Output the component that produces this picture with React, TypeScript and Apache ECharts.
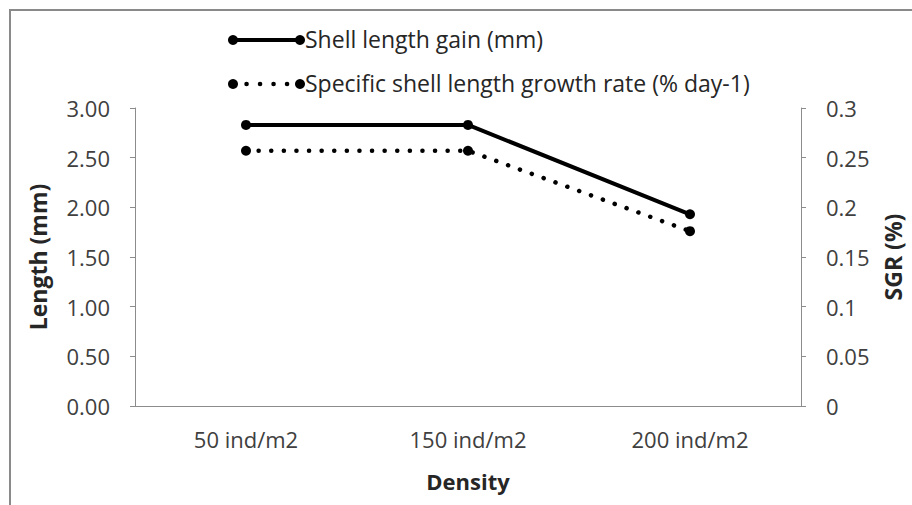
import React, { useEffect, useRef } from "react";
import * as echarts from "echarts";

const categories = ["50 ind/m2", "150 ind/m2", "200 ind/m2"];
const shellLengthGain = [2.83, 2.83, 1.93];
const sgrValues = [0.257, 0.257, 0.176];
const seriesNames = ["Shell length gain (mm)", "Specific shell length growth rate (% day-1)"];

const FONT = "'Open Sans', 'Noto Sans', sans-serif";

export default function App() {
  const ref = useRef<HTMLDivElement>(null);
  useEffect(() => {
    document.body.style.margin = "0";
    const chart = echarts.init(ref.current!, null, { renderer: "svg" });
    const axisColor = "#8c8c8c";
    const labelColor = "#404040";
    chart.setOption({
      animation: false,
      backgroundColor: "#ffffff",
      textStyle: { fontFamily: FONT },
      grid: { left: 135, right: 104, top: 108, bottom: 99 },
      xAxis: {
        type: "category",
        data: categories,
        boundaryGap: true,
        name: "Density",
        nameLocation: "middle",
        nameGap: 64,
        nameTextStyle: { fontSize: 22, fontWeight: "bold", color: "#262626", fontFamily: FONT },
        axisLine: { lineStyle: { color: axisColor, width: 1 } },
        axisTick: { alignWithLabel: true, length: 5, lineStyle: { color: axisColor } },
        axisLabel: { fontSize: 22, color: labelColor, margin: 22, fontFamily: FONT },
        splitLine: { show: false },
      },
      yAxis: [
        {
          type: "value",
          min: 0,
          max: 3,
          interval: 0.5,
          name: "Length (mm)",
          nameLocation: "middle",
          nameGap: 86,
          nameTextStyle: { fontSize: 23, fontWeight: "bold", color: "#262626", fontFamily: FONT },
          axisLine: { show: true, lineStyle: { color: axisColor } },
          axisTick: { show: true, length: 5, lineStyle: { color: axisColor } },
          axisLabel: {
            fontSize: 22,
            color: labelColor,
            margin: 25,
            fontFamily: FONT,
            formatter: (v: number) => v.toFixed(2),
          },
          splitLine: { show: false },
        },
        {
          type: "value",
          min: 0,
          max: 0.3,
          interval: 0.05,
          position: "right",
          name: "SGR (%)",
          nameLocation: "middle",
          nameGap: 80,
          nameRotate: 90,
          nameTextStyle: { fontSize: 23, fontWeight: "bold", color: "#262626", fontFamily: FONT },
          axisLine: { show: true, lineStyle: { color: axisColor } },
          axisTick: { show: true, length: 5, lineStyle: { color: axisColor } },
          axisLabel: {
            fontSize: 22,
            color: labelColor,
            margin: 25,
            fontFamily: FONT,
            formatter: (v: number) => String(Math.round(v * 100) / 100),
          },
          splitLine: { show: false },
        },
      ],
      series: [
        {
          name: seriesNames[0],
          type: "line",
          data: shellLengthGain,
          yAxisIndex: 0,
          symbol: "circle",
          symbolSize: 10,
          itemStyle: { color: "#000000" },
          lineStyle: { color: "#000000", width: 4 },
        },
        {
          name: seriesNames[1],
          type: "line",
          data: sgrValues,
          yAxisIndex: 1,
          symbol: "circle",
          symbolSize: 10,
          itemStyle: { color: "#000000" },
          lineStyle: { color: "#000000", width: 4.5, type: [0.1, 12.5], cap: "round" },
        },
      ],
      graphic: [
        {
          type: "polyline",
          shape: { points: [[10, 520], [10, 10], [920, 10]] },
          style: { stroke: "#8a8a8a", lineWidth: 2, fill: "none" },
        },
        {
          type: "group",
          children: [
            { type: "line", shape: { x1: 233, y1: 40, x2: 300, y2: 40 }, style: { stroke: "#000", lineWidth: 4 } },
            { type: "circle", shape: { cx: 233, cy: 40, r: 5 }, style: { fill: "#000" } },
            { type: "circle", shape: { cx: 300, cy: 40, r: 5 }, style: { fill: "#000" } },
            {
              type: "text",
              x: 305,
              y: 39,
              style: { text: seriesNames[0], fontSize: 23, fill: "#262626", fontFamily: FONT, verticalAlign: "middle" },
            },
            {
              type: "line",
              shape: { x1: 233, y1: 84, x2: 300, y2: 84 },
              style: { stroke: "#000", lineWidth: 4.5, lineDash: [0.1, 13.4], lineCap: "round" },
            },
            { type: "circle", shape: { cx: 233, cy: 84, r: 5 }, style: { fill: "#000" } },
            { type: "circle", shape: { cx: 300, cy: 84, r: 5 }, style: { fill: "#000" } },
            {
              type: "text",
              x: 305,
              y: 83,
              style: { text: seriesNames[1], fontSize: 23, fill: "#262626", fontFamily: FONT, verticalAlign: "middle" },
            },
          ],
        },
      ],
    });
    return () => chart.dispose();
  }, []);
  return <div ref={ref} style={{ width: 912, height: 505 }} />;
}
